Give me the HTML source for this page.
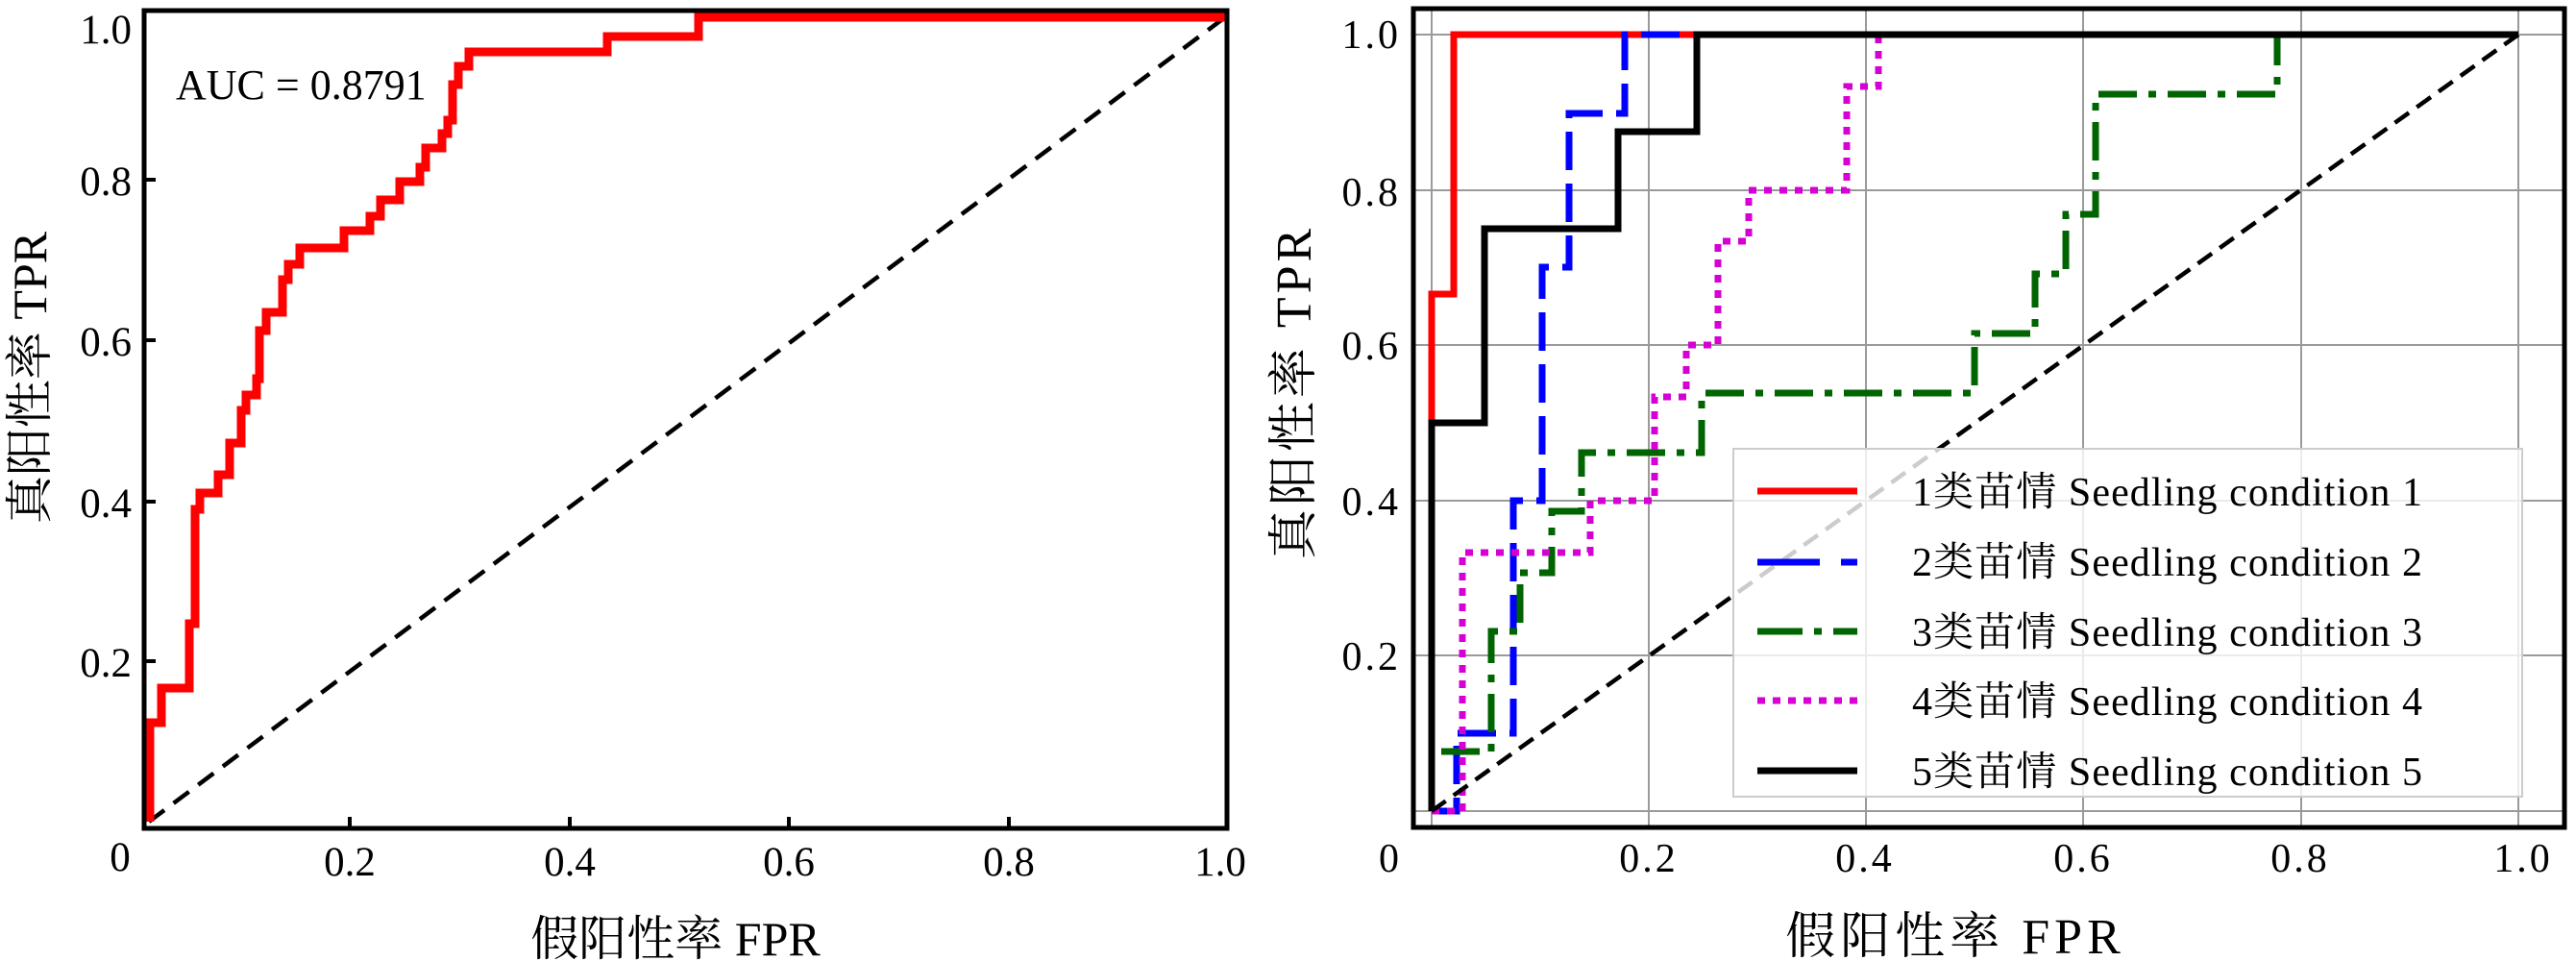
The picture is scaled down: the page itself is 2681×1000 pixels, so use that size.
<!DOCTYPE html>
<html><head><meta charset="utf-8"><style>
html,body{margin:0;padding:0;background:#fff;}
svg{display:block;}
text{font-family:"Liberation Serif","Noto Serif CJK SC",serif;fill:#000;}
</style></head><body>
<svg width="2681" height="1000" viewBox="0 0 2681 1000" xmlns="http://www.w3.org/2000/svg">
<rect width="2681" height="1000" fill="#fff"/>
<!-- LEFT PLOT -->
<g>
<path d="M155,855 L1275,18" stroke="#000" stroke-width="4.5" stroke-dasharray="20 12" fill="none"/>
<path d="M156,855 V752 H168 V716 H197 V649 H203 V530 H208 V513 H227 V494 H239 V461 H251 V427 H256 V411 H267 V394 H270 V344 H277 V325 H294 V291 H300 V275 H312 V258 H358 V240 H385 V225 H396 V208 H416 V189 H437 V174 H443 V154 H460 V139 H466 V125 H471 V88 H477 V69 H488 V54 H632 V38 H727 V18 H1275" stroke="#f00" stroke-width="9" fill="none" stroke-linejoin="miter"/>
<rect x="150" y="11" width="1127" height="851" fill="none" stroke="#000" stroke-width="5"/>
<g stroke="#000" stroke-width="4">
<line x1="150" y1="187" x2="162" y2="187"/><line x1="150" y1="354" x2="162" y2="354"/>
<line x1="150" y1="522" x2="162" y2="522"/><line x1="150" y1="688" x2="162" y2="688"/>
<line x1="364" y1="862" x2="364" y2="850"/><line x1="593" y1="862" x2="593" y2="850"/>
<line x1="821" y1="862" x2="821" y2="850"/><line x1="1050" y1="862" x2="1050" y2="850"/>
</g>
<g font-size="43" text-anchor="end">
<text x="137" y="45">1.0</text><text x="137" y="203">0.8</text><text x="137" y="370">0.6</text>
<text x="137" y="538">0.4</text><text x="137" y="704">0.2</text>
</g>
<g font-size="43" text-anchor="middle">
<text x="125" y="906">0</text><text x="364" y="911">0.2</text><text x="593" y="911">0.4</text>
<text x="821" y="911">0.6</text><text x="1050" y="911">0.8</text><text x="1270" y="911">1.0</text>
</g>
<text x="183" y="103" font-size="44">AUC = 0.8791</text>
<text x="703" y="994" font-size="50" text-anchor="middle">假阳性率 FPR</text>
<text transform="translate(48,393) rotate(-90)" font-size="50" text-anchor="middle">真阳性率 TPR</text>
</g>
<!-- RIGHT PLOT -->
<g>
<g stroke="#9a9a9a" stroke-width="2">
<line x1="1490" y1="9" x2="1490" y2="861"/><line x1="1716" y1="9" x2="1716" y2="861"/>
<line x1="1942" y1="9" x2="1942" y2="861"/><line x1="2168" y1="9" x2="2168" y2="861"/>
<line x1="2395" y1="9" x2="2395" y2="861"/><line x1="2621" y1="9" x2="2621" y2="861"/>
<line x1="1471" y1="36" x2="2669" y2="36"/><line x1="1471" y1="198" x2="2669" y2="198"/>
<line x1="1471" y1="359" x2="2669" y2="359"/><line x1="1471" y1="521" x2="2669" y2="521"/>
<line x1="1471" y1="682" x2="2669" y2="682"/><line x1="1471" y1="844" x2="2669" y2="844"/>
</g>
<path d="M1490,844 V437 V306 H1513 V36 H2621" stroke="#f00" stroke-width="7" fill="none"/>
<path d="M1490,844 H1516 V763 H1575 V521 H1605 V278 H1633 V118 H1691 V36 H2621" stroke="#0000ff" stroke-width="7" fill="none" stroke-dasharray="40 14"/>
<path d="M1490,844 V782 H1552 V657 H1582 V596 H1615 V532 H1646 V471 H1771 V409 H2055 V347 H2118 V285 H2150 V223 H2181 V98 H2370 V36 H2621" stroke="#006400" stroke-width="7" fill="none" stroke-dasharray="40 12 8 12"/>
<path d="M1490,844 H1522 V575 H1655 V521 H1722 V413 H1755 V359 H1788 V251 H1820 V198 H1922 V90 H1955 V36 H2621" stroke="#d400d4" stroke-width="7" fill="none" stroke-dasharray="8 8"/>
<path d="M1490,844 V440 H1545 V238 H1684 V137 H1766 V36 H2621" stroke="#000" stroke-width="7" fill="none"/>
<path d="M1490,844 L2621,36" stroke="#000" stroke-width="4.5" fill="none" stroke-dasharray="18 10"/>
<rect x="1471" y="9" width="1198" height="852" fill="none" stroke="#000" stroke-width="5"/>
<!-- legend -->
<rect x="1804" y="467" width="821" height="362" fill="#fff" fill-opacity="0.8" stroke="#ccc" stroke-width="2"/>
<g stroke-width="7" fill="none">
<line x1="1829" y1="511" x2="1933" y2="511" stroke="#f00"/>
<line x1="1829" y1="585" x2="1933" y2="585" stroke="#00f" stroke-dasharray="65 22"/>
<line x1="1829" y1="657" x2="1933" y2="657" stroke="#006400" stroke-dasharray="47 12 8 12"/>
<line x1="1829" y1="729" x2="1933" y2="729" stroke="#d400d4" stroke-dasharray="8 8"/>
<line x1="1829" y1="802" x2="1933" y2="802" stroke="#000"/>
</g>
<g font-size="42">
<text x="1990" y="526" textLength="531" lengthAdjust="spacing">1类苗情 Seedling condition 1</text>
<text x="1990" y="599" textLength="531" lengthAdjust="spacing">2类苗情 Seedling condition 2</text>
<text x="1990" y="672" textLength="531" lengthAdjust="spacing">3类苗情 Seedling condition 3</text>
<text x="1990" y="744" textLength="531" lengthAdjust="spacing">4类苗情 Seedling condition 4</text>
<text x="1990" y="817" textLength="531" lengthAdjust="spacing">5类苗情 Seedling condition 5</text>
</g>
<g font-size="42" text-anchor="end" letter-spacing="3">
<text x="1458" y="50">1.0</text><text x="1458" y="214">0.8</text><text x="1458" y="374">0.6</text>
<text x="1458" y="536">0.4</text><text x="1458" y="697">0.2</text>
</g>
<g font-size="42" text-anchor="middle" letter-spacing="3">
<text x="1447" y="907">0</text><text x="1716" y="907">0.2</text><text x="1941" y="907">0.4</text>
<text x="2168" y="907">0.6</text><text x="2394" y="907">0.8</text><text x="2626" y="907">1.0</text>
</g>
<text x="2035" y="992" font-size="52" letter-spacing="5" text-anchor="middle">假阳性率 FPR</text>
<text transform="translate(1364,408) rotate(-90)" font-size="52" letter-spacing="4" text-anchor="middle">真阳性率 TPR</text>
</g>
</svg>
</body></html>
